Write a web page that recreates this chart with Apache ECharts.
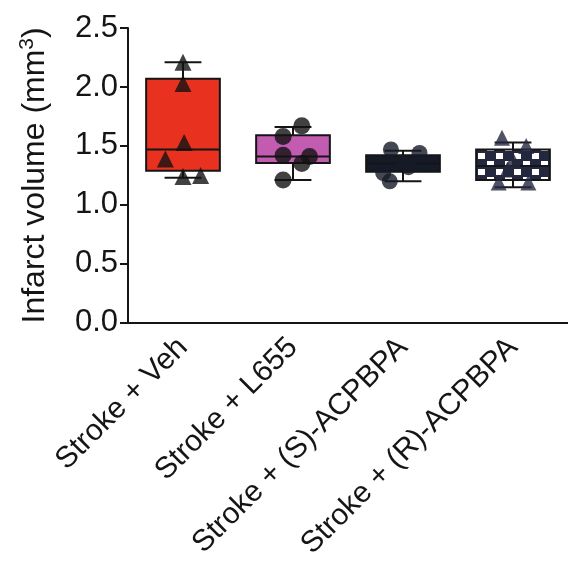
<!DOCTYPE html>
<html>
<head>
<meta charset="utf-8">
<script src="https://cdn.jsdelivr.net/npm/echarts@6/dist/echarts.min.js"></script>
<style>
  html, body { margin: 0; padding: 0; background: #fff; }
  #chart { width: 568px; height: 562px; }
</style>
</head>
<body>
<div id="chart"></div>
<script>
// Treatment groups
const groups = ['Stroke + Veh', 'Stroke + L655', 'Stroke + (S)-ACPBPA', 'Stroke + (R)-ACPBPA'];

// Box summaries per group: [min, Q1, median, Q3, max] (mm^3)
const vehBox  = [1.23, 1.29, 1.47, 2.07, 2.21];
const l655Box = [1.21, 1.355, 1.41, 1.59, 1.66];
const sBox    = [1.20, 1.28, 1.35, 1.42, 1.46];
const rBox    = [1.15, 1.21, 1.33, 1.47, 1.53];

// Individual animals (mm^3)
const vehPts  = [2.21, 2.03, 1.53, 1.39, 1.24, 1.25];
const l655Pts = [1.67, 1.58, 1.42, 1.41, 1.35, 1.21];
const sPts    = [1.47, 1.44, 1.36, 1.32, 1.27, 1.20];
const rPts    = [1.57, 1.50, 1.38, 1.30, 1.19, 1.19];

// Horizontal spread of the dots inside each group, in category units
const vehSpread  = [0, 0, 0.01, -0.16, 0, 0.16];
const l655Spread = [0.08, -0.09, -0.09, 0.15, 0.08, -0.09];
const sSpread    = [-0.11, 0.15, 0, 0.05, -0.18, -0.12];
const rSpread    = [-0.1, 0.12, 0, -0.05, -0.13, 0.14];

// Y-axis ticks
const yTicks = [0, 0.5, 1.0, 1.5, 2.0, 2.5];

const FONT = "'Liberation Sans', Arial, Helvetica, sans-serif";
const INK = '#151515';

// checkerboard fill for the (R)-ACPBPA box
const checker = document.createElement('canvas');
checker.width = 18; checker.height = 16;
(function () {
  const c = checker.getContext('2d');
  c.fillStyle = '#23283e';
  c.fillRect(0, 0, 18, 16);
  c.fillStyle = '#ffffff';
  c.fillRect(1, 1, 7, 6);
  c.fillRect(10, 9, 7, 6);
})();

const boxFills = ['#e8321f', '#c25cb1', '#151a27', { image: checker, repeat: 'repeat' }];
const boxes = [vehBox, l655Box, sBox, rBox].map((b, i) => [i].concat(b));

function toPoints(vals, spread, gi) {
  return vals.map((v, k) => [gi + spread[k], v]);
}

const chart = echarts.init(document.getElementById('chart'), null, { renderer: 'canvas' });

chart.setOption({
  animation: false,
  backgroundColor: '#ffffff',
  grid: { left: 128, top: 28, bottom: 235, right: -10, containLabel: false },
  xAxis: [
    {
      type: 'category',
      data: groups,
      axisLine: { onZero: false, lineStyle: { color: INK, width: 2 } },
      axisTick: { alignWithLabel: true, length: 8, lineStyle: { color: INK, width: 2 } },
      axisLabel: { rotate: 45, fontSize: 30, color: INK, fontFamily: FONT, margin: 20, padding: [24, 0, 0, 0], interval: 0 },
      splitLine: { show: false }
    },
    { type: 'value', min: -0.5, max: 3.5, show: false }
  ],
  yAxis: {
    type: 'value',
    min: yTicks[0],
    max: yTicks[yTicks.length - 1],
    interval: 0.5,
    name: '{t|Infarct volume (mm}{sup|3}{t|)}',
    nameLocation: 'middle',
    nameGap: 74,
    nameTextStyle: {
      rich: {
        t: { fontSize: 32, color: INK, fontFamily: FONT },
        sup: { fontSize: 21, color: INK, fontFamily: FONT, padding: [0, 0, 16, 0] }
      }
    },
    axisLine: { show: true, onZero: false, lineStyle: { color: INK, width: 2 } },
    axisTick: { show: true, length: 8, lineStyle: { color: INK, width: 2 } },
    axisLabel: { fontSize: 31, color: INK, fontFamily: FONT, margin: 10, formatter: v => v.toFixed(1) },
    splitLine: { show: false }
  },
  series: [
    {
      type: 'custom',
      xAxisIndex: 0,
      data: boxes,
      renderItem: function (params, api) {
        const i = api.value(0);
        const lo = api.coord([i, api.value(1)]);
        const q1 = api.coord([i, api.value(2)]);
        const md = api.coord([i, api.value(3)]);
        const q3 = api.coord([i, api.value(4)]);
        const hi = api.coord([i, api.value(5)]);
        const bw = api.size([1, 0])[0] * 0.67;
        const cw = bw * 0.5;
        const x = lo[0];
        const line = { stroke: INK, lineWidth: 2 };
        return {
          type: 'group',
          children: [
            { type: 'line', shape: { x1: x, y1: hi[1], x2: x, y2: q3[1] }, style: line },
            { type: 'line', shape: { x1: x, y1: q1[1], x2: x, y2: lo[1] }, style: line },
            { type: 'line', shape: { x1: x - cw / 2, y1: hi[1], x2: x + cw / 2, y2: hi[1] }, style: line },
            { type: 'line', shape: { x1: x - cw / 2, y1: lo[1], x2: x + cw / 2, y2: lo[1] }, style: line },
            { type: 'rect', shape: { x: x - bw / 2, y: q3[1], width: bw, height: q1[1] - q3[1] },
              style: { fill: boxFills[params.dataIndex], stroke: INK, lineWidth: 2 } },
            { type: 'line', shape: { x1: x - bw / 2, y1: md[1], x2: x + bw / 2, y2: md[1] }, style: line }
          ]
        };
      },
      z: 2
    },
    { type: 'scatter', xAxisIndex: 1, data: toPoints(vehPts, vehSpread, 0), symbol: 'triangle', symbolSize: 17, itemStyle: { color: '#111' }, z: 3 },
    { type: 'scatter', xAxisIndex: 1, data: toPoints(l655Pts, l655Spread, 1), symbol: 'circle', symbolSize: 17, itemStyle: { color: '#111' }, z: 3 },
    { type: 'scatter', xAxisIndex: 1, data: toPoints(sPts, sSpread, 2), symbol: 'circle', symbolSize: 16, itemStyle: { color: '#151a27' }, z: 3 },
    { type: 'scatter', xAxisIndex: 1, data: toPoints(rPts, rSpread, 3), symbol: 'triangle', symbolSize: 16, itemStyle: { color: '#23283e' }, z: 3 }
  ]
});
</script>
</body>
</html>
